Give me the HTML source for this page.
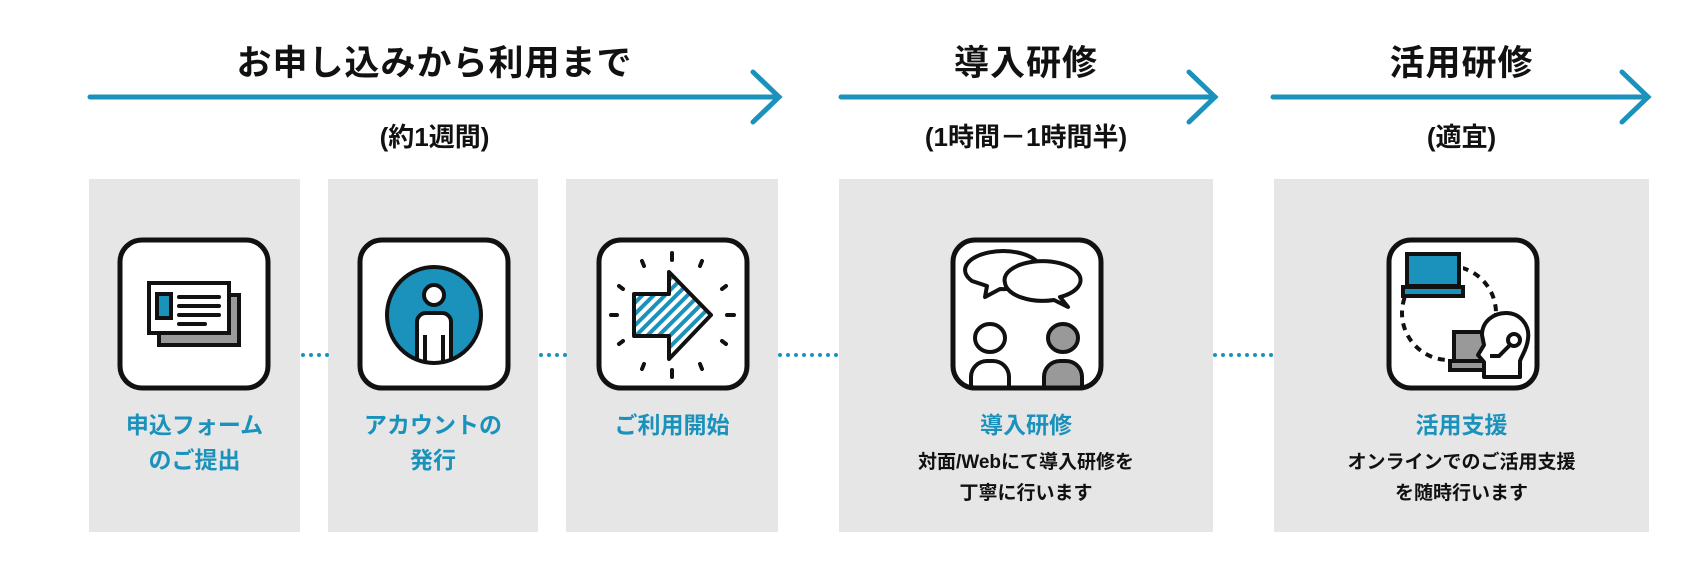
<!DOCTYPE html>
<html><head><meta charset="utf-8"><style>
body{margin:0;width:1698px;height:577px;background:#fff;position:relative;overflow:hidden;font-family:"Liberation Sans","Noto Sans CJK JP",sans-serif;font-weight:700}
.a{position:absolute}
.g{position:absolute;top:179px;height:353px;background:#e6e6e6}
.t{position:absolute;text-align:center;white-space:nowrap;color:#111}
.h{font-size:35px;letter-spacing:1px;top:41px;line-height:46px}
.s{font-size:26px;top:120px;line-height:34px}
.b{color:#1b92bc;font-size:23px;line-height:35px;top:408px}
.d{font-size:19px;line-height:31px;top:447px;color:#111}
.ic{position:absolute;top:237px;width:154px;height:154px}
</style></head><body>
<svg class="a" style="left:0;top:0" width="1698" height="577">
<g stroke="#1b92bc" stroke-width="5" fill="none" stroke-linecap="round">
<line x1="90" y1="97" x2="779" y2="97"/><polyline points="753,72 779,97 753,122"/>
<line x1="841" y1="97" x2="1215" y2="97"/><polyline points="1189,72 1215,97 1189,122"/>
<line x1="1273" y1="97" x2="1648" y2="97"/><polyline points="1622,72 1648,97 1622,122"/>
</g>
</svg>
<div class="t h" style="left:89px;width:691px">お申し込みから利用まで</div>
<div class="t h" style="left:839px;width:374px">導入研修</div>
<div class="t h" style="left:1274px;width:375px">活用研修</div>
<div class="t s" style="left:89px;width:691px">(約1週間)</div>
<div class="t s" style="left:839px;width:374px">(1時間－1時間半)</div>
<div class="t s" style="left:1274px;width:375px">(適宜)</div>

<div class="g" style="left:89px;width:211px"></div>
<div class="g" style="left:328px;width:210px"></div>
<div class="g" style="left:566px;width:212px"></div>
<div class="g" style="left:839px;width:374px"></div>
<div class="g" style="left:1274px;width:375px"></div>

<svg class="a" style="left:0;top:0" width="1698" height="577">
<g fill="#1b92bc">
<circle cx="303" cy="355" r="2"/><circle cx="311" cy="355" r="2"/><circle cx="319" cy="355" r="2"/><circle cx="327" cy="355" r="2"/>
<circle cx="541" cy="355" r="2"/><circle cx="549" cy="355" r="2"/><circle cx="557" cy="355" r="2"/><circle cx="565" cy="355" r="2"/>
<circle cx="780" cy="355" r="2"/><circle cx="788" cy="355" r="2"/><circle cx="796" cy="355" r="2"/><circle cx="804" cy="355" r="2"/><circle cx="812" cy="355" r="2"/><circle cx="820" cy="355" r="2"/><circle cx="828" cy="355" r="2"/><circle cx="836" cy="355" r="2"/>
<circle cx="1215" cy="355" r="2"/><circle cx="1223" cy="355" r="2"/><circle cx="1231" cy="355" r="2"/><circle cx="1239" cy="355" r="2"/><circle cx="1247" cy="355" r="2"/><circle cx="1255" cy="355" r="2"/><circle cx="1263" cy="355" r="2"/><circle cx="1271" cy="355" r="2"/>
</g>
</svg>

<svg class="ic" style="left:117px" viewBox="0 0 154 154">
<rect x="3" y="3" width="148" height="148" rx="22" fill="#fff" stroke="#111" stroke-width="5"/>
<rect x="42" y="58" width="80" height="50" fill="#9a9a9a" stroke="#111" stroke-width="4"/>
<rect x="32" y="46" width="80" height="50" fill="#fff" stroke="#111" stroke-width="4"/>
<rect x="40" y="57" width="14" height="24" fill="#1b92bc" stroke="#111" stroke-width="4"/>
<g stroke="#111" stroke-width="4" stroke-linecap="round"><line x1="62" y1="60" x2="102" y2="60"/><line x1="62" y1="69" x2="102" y2="69"/><line x1="62" y1="78" x2="102" y2="78"/><line x1="62" y1="87" x2="88" y2="87"/></g>
</svg>
<svg class="ic" style="left:357px" viewBox="0 0 154 154">
<defs><clipPath id="c2"><ellipse cx="77" cy="78" rx="47" ry="48"/></clipPath></defs>
<rect x="3" y="3" width="148" height="148" rx="22" fill="#fff" stroke="#111" stroke-width="5"/>
<ellipse cx="77" cy="78" rx="47" ry="48" fill="#1b92bc"/>
<g clip-path="url(#c2)" stroke="#111" stroke-width="4" fill="#fff">
<circle cx="77" cy="58" r="10"/>
<rect x="60" y="76" width="34" height="70" rx="9"/>
<line x1="68" y1="98" x2="68" y2="140"/><line x1="86" y1="98" x2="86" y2="140"/>
</g>
<ellipse cx="77" cy="78" rx="47" ry="48" fill="none" stroke="#111" stroke-width="4"/>
</svg>
<svg class="ic" style="left:596px" viewBox="0 0 154 154">
<defs><pattern id="st" width="8" height="8" patternUnits="userSpaceOnUse" patternTransform="rotate(45)"><rect width="8" height="8" fill="#fff"/><rect width="4" height="8" fill="#1b92bc"/></pattern></defs>
<rect x="3" y="3" width="148" height="148" rx="22" fill="#fff" stroke="#111" stroke-width="5"/>
<g stroke="#111" stroke-width="4" stroke-linecap="round">
<line x1="76" y1="16" x2="76" y2="23"/><line x1="76" y1="133" x2="76" y2="140"/>
<line x1="15" y1="78" x2="21" y2="78"/><line x1="131" y1="78" x2="138" y2="78"/>
<line x1="46" y1="24" x2="48" y2="29"/><line x1="106" y1="24" x2="104" y2="29"/>
<line x1="46" y1="132" x2="48" y2="127"/><line x1="106" y1="132" x2="104" y2="127"/>
<line x1="23" y1="49" x2="27" y2="52"/><line x1="130" y1="49" x2="126" y2="52"/>
<line x1="23" y1="107" x2="27" y2="104"/><line x1="130" y1="107" x2="126" y2="104"/>
</g>
<polygon points="38,57 73,57 73,35 115,78 73,122 73,99 38,99" fill="url(#st)" stroke="#111" stroke-width="4" stroke-linejoin="round"/>
</svg>
<svg class="ic" style="left:950px" viewBox="0 0 154 154">
<defs><clipPath id="c4"><rect x="3" y="3" width="148" height="148" rx="22"/></clipPath></defs>
<rect x="3" y="3" width="148" height="148" rx="22" fill="#fff"/>
<g stroke="#111" stroke-width="4">
<path d="M22,44 A38,19 0 1 1 50,52 L35,60 L37,49 Z" fill="#fff" stroke-linejoin="round"/>
<path d="M55,46 A38,19 0 1 1 110,60 L118,70 L104,63 A38,19 0 0 1 55,46 Z" fill="#fff" stroke-linejoin="round"/>
<g clip-path="url(#c4)">
<ellipse cx="40" cy="101" rx="15" ry="14" fill="#fff"/>
<rect x="21" y="124" width="38" height="50" rx="16" fill="#fff"/>
<ellipse cx="113" cy="101" rx="15" ry="14" fill="#999"/>
<rect x="94" y="124" width="38" height="50" rx="16" fill="#999"/>
</g>
</g>
<rect x="3" y="3" width="148" height="148" rx="22" fill="none" stroke="#111" stroke-width="5"/>
</svg>
<svg class="ic" style="left:1386px" viewBox="0 0 154 154">
<rect x="3" y="3" width="148" height="148" rx="22" fill="#fff" stroke="#111" stroke-width="5"/>
<circle cx="63" cy="76" r="47" fill="none" stroke="#111" stroke-width="4" stroke-dasharray="7 6"/>
<rect x="15" y="10" width="62" height="48" fill="#fff"/>
<rect x="21" y="17" width="52" height="32" fill="#1b92bc" stroke="#111" stroke-width="4"/>
<rect x="17" y="50" width="60" height="9" fill="#1b92bc" stroke="#111" stroke-width="4"/>
<rect x="60" y="95" width="40" height="40" fill="#fff"/>
<rect x="68" y="95" width="30" height="30" fill="#999" stroke="#111" stroke-width="4"/>
<rect x="64" y="124" width="34" height="9" fill="#999" stroke="#111" stroke-width="4"/>
<path d="M98,140 L98,125 L92,118 L98,108 L96,98 C96,84 108,76 120,76 C134,76 144,88 142,102 C141,112 136,118 134,124 L134,140 Z" fill="#fff" stroke="#111" stroke-width="4" stroke-linejoin="round"/>
<circle cx="128" cy="103" r="6" fill="#fff" stroke="#111" stroke-width="4"/>
<polyline points="124,108 113,119 104,119" fill="none" stroke="#111" stroke-width="4"/>
</svg>

<div class="t b" style="left:89px;width:211px">申込フォーム<br>のご提出</div>
<div class="t b" style="left:328px;width:210px">アカウントの<br>発行</div>
<div class="t b" style="left:566px;width:212px">ご利用開始</div>
<div class="t b" style="left:839px;width:374px">導入研修</div>
<div class="t b" style="left:1274px;width:375px">活用支援</div>
<div class="t d" style="left:839px;width:374px">対面/Webにて導入研修を<br>丁寧に行います</div>
<div class="t d" style="left:1274px;width:375px">オンラインでのご活用支援<br>を随時行います</div>
</body></html>
